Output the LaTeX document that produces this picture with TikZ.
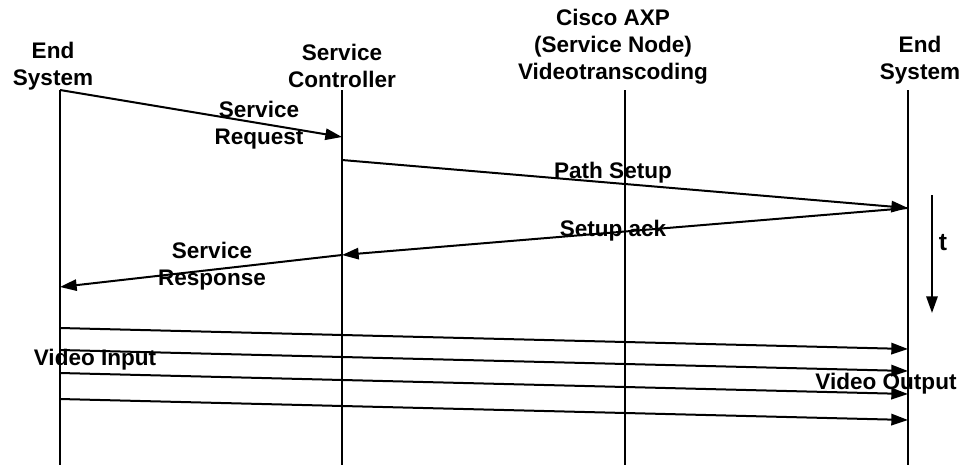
\documentclass[tikz,border=0pt]{standalone}
\usepackage{fontspec}
\setmainfont{Liberation Sans}
\usetikzlibrary{arrows.meta}

\tikzset{
    party/.style={font=\fontsize{16.9}{20.3}\selectfont\bfseries, align=center, inner sep=0pt},
    lifeline/.style={line width=1pt},
    msg/.style={line width=1.5pt, -{Triangle[length=12.5pt, width=8.5pt]}},
}

\begin{document}
\begin{tikzpicture}[x=0.75pt, y=-0.75pt]
    \useasboundingbox (0,0) rectangle (964,465);
    % parties
    \node [party] (endA) at (53,66) {End\\System};
    \node [party] (ctrl) at (342,66) {Service\\Controller};
    \node [party] (axp) at (613,47) {Cisco AXP\\(Service Node)\\Videotranscoding};
    \node [party] (endB) at (920,60) {End\\System};
    % lifelines
    \coordinate (A) at (60,90);   \coordinate (A') at (60,465);
    \coordinate (C) at (342,90);  \coordinate (C') at (342,465);
    \coordinate (X) at (625,90);  \coordinate (X') at (625,465);
    \coordinate (B) at (908,90);  \coordinate (B') at (908,465);
    \foreach \p in {A,C,X,B}
        \draw [lifeline] (\p) -- (\p');
    % setup messages
    \coordinate (req) at (342,137);
    \coordinate (path) at (342,160);
    \coordinate (ack) at (908,208);
    \coordinate (resp) at (342,255);
    \coordinate (done) at (60,287);
    \draw [msg] (A) -- (req);
    \draw [msg] (path) -- (ack);
    \draw [msg] (ack) -- (resp);
    \draw [msg] (resp) -- (done);
    \node [party] (reqlabel) at (259,125) {Service\\Request};
    \node [party] (pathlabel) at (613,173) {Path Setup};
    \node [party] (acklabel) at (613,231) {Setup ack};
    \node [party] (resplabel) at (212,266) {Service\\Response};
    % video stream
    \foreach \y [count=\i] in {328,350,373,399} {
        \coordinate (vin\i) at (60,\y);
        \coordinate (vout\i) at (908,\y+21);
        \draw [msg] (vin\i) -- (vout\i);
    }
    \node [party] (vinlabel) at (95,360) {Video Input};
    \node [party] (voutlabel) at (886,384) {Video Output};
    % time axis
    \coordinate (t0) at (932,195);
    \coordinate (t1) at (932,313);
    \draw [msg] (t0) -- (t1);
    \node [party, font=\fontsize{18.5}{22}\selectfont\bfseries] (tlabel) at (943,243) {t};
\end{tikzpicture}
\end{document}
